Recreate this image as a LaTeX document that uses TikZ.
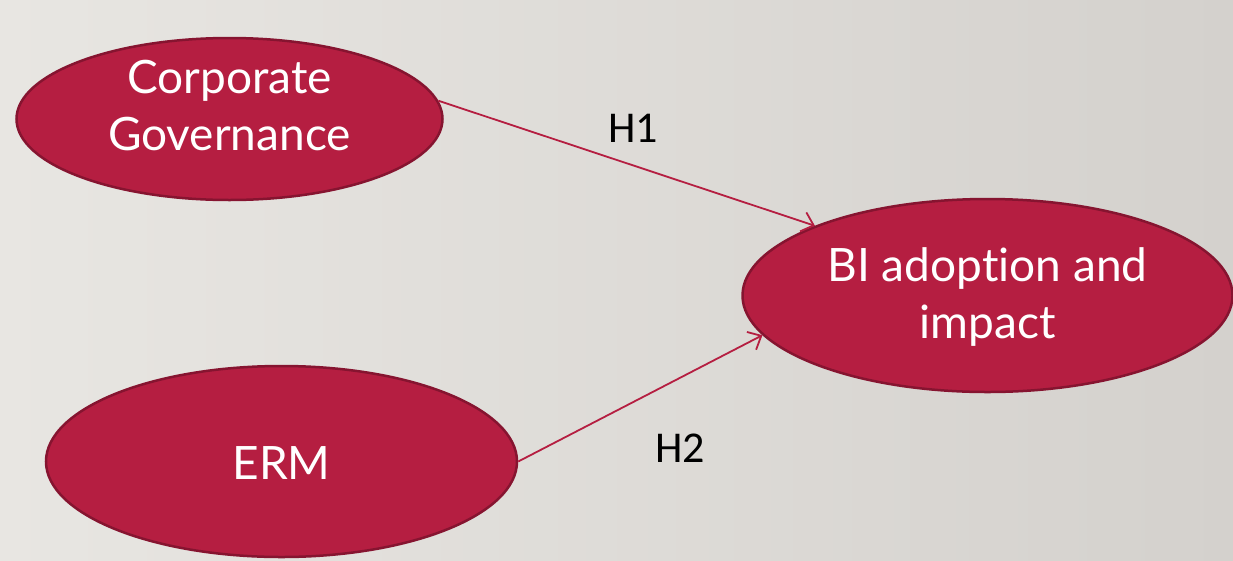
\documentclass[tikz,border=0pt]{standalone}
\usepackage{fontspec}
\setmainfont{Lato}[Ligatures=NoCommon]
\newfontfamily\labelfont{Carlito}
\usetikzlibrary{shapes.geometric,arrows.meta}
\definecolor{bgleft}{HTML}{E8E6E2}
\definecolor{bgright}{HTML}{D4D1CD}
\definecolor{crimson}{HTML}{B51E41}
\definecolor{crimsonedge}{HTML}{861430}
\tikzset{
  construct/.style={ellipse, fill=crimson, draw=crimsonedge, line width=2.5pt,
    inner sep=0pt},
  constructtext/.style={text=white, align=center, inner sep=0pt,
    font=\fontsize{46}{57}\selectfont},
  path/.style={draw=crimson, line width=1.8pt,
    -{Straight Barb[length=11pt,width=20pt,line width=1.8pt]}},
  hyp/.style={font=\labelfont\fontsize{44}{50}\selectfont, text=black}
}
\begin{document}
\begin{tikzpicture}[x=1pt,y=-1pt]
  % page background with a soft left-to-right gradient
  \shade[left color=bgleft, right color=bgright] (0,0) rectangle (1233,560);
  \useasboundingbox (0,0) rectangle (1233,560);

  % the three constructs
  \node[construct, minimum width=426pt, minimum height=162pt]
    (cg) at (229.5,119) {};
  \node[construct, minimum width=471pt, minimum height=191pt]
    (erm) at (281.5,461.5) {};
  \node[construct, minimum width=490pt, minimum height=193pt]
    (bi) at (987.5,295.5) {};

  \node[constructtext] (cgtext) at (229.5,106) {Corporate\\Governance};
  \node[constructtext] (ermtext) at (281.5,463) {ERM};
  \node[constructtext] (bitext) at (987.5,297) {BI adoption and\\impact};

  % hypothesised paths
  \draw[path] (cg.5) -- (bi.158.6);
  \draw[path] (erm.0.7) -- (bi.-170.2);

  \node[hyp] (h1) at (633,128) {H1};
  \node[hyp] (h2) at (680,448) {H2};
\end{tikzpicture}
\end{document}
